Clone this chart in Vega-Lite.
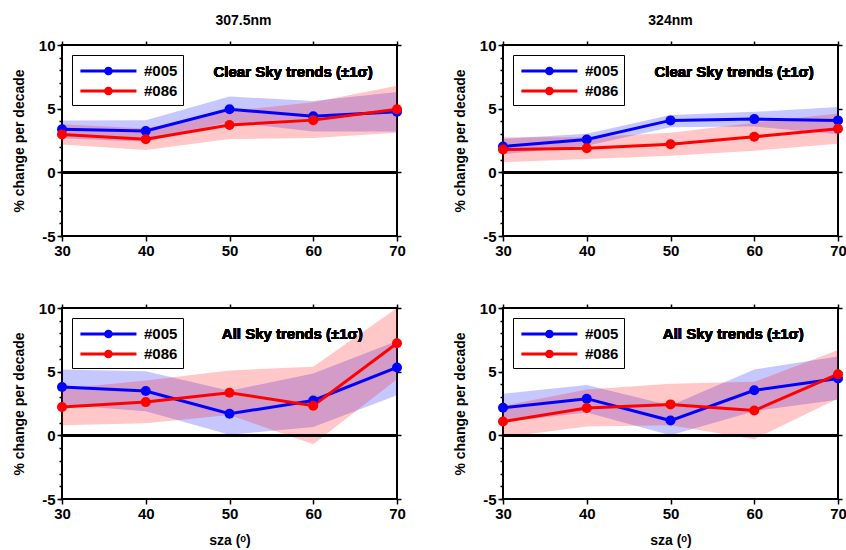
{
  "$schema": "https://vega.github.io/schema/vega-lite/v6.json",
  "background": "white",
  "padding": {"left": 11, "top": 13, "right": 0, "bottom": 0},
  "config": {
    "font": "Liberation Sans",
    "view": {"stroke": "black", "strokeWidth": 2},
    "axis": {
      "labelFont": "Liberation Sans", "labelFontSize": 15, "labelFontWeight": "bold", "labelColor": "black",
      "titleFont": "Liberation Sans", "titleFontSize": 14, "titleFontWeight": "bold", "titleColor": "black",
      "domain": false, "grid": false, "tickColor": "black", "tickWidth": 1.5, "tickSize": 5,
      "labelPadding": 2, "titlePadding": 12, "labelFlush": false, "labelExpr": "'' + datum.value"
    },
    "title": {"font": "Liberation Sans", "fontSize": 14, "fontWeight": "bold", "color": "black", "offset": 10},
    "legend": {
      "orient": "none", "legendX": 10, "legendY": 10, "strokeColor": "black", "fillColor": "white",
      "padding": 5, "title": null,
      "symbolType": "M-0.8,0H5.1M1.85,0A0.3,0.3 0 1,1 2.45,0A0.3,0.3 0 1,1 1.85,0M2.05,0A0.1,0.1 0 1,1 2.25,0A0.1,0.1 0 1,1 2.05,0",
      "symbolSize": 361, "symbolStrokeWidth": 3, "symbolOpacity": 1,
      "labelFont": "Liberation Sans", "labelFontSize": 15, "labelFontWeight": "bold", "labelColor": "black",
      "labelOffset": 45, "rowPadding": -1
    }
  },
  "data": {"values": [
    {"panel": "a", "series": "#005", "sza": 30, "value": 3.38, "lo": 2.68, "hi": 4.08},
    {"panel": "a", "series": "#005", "sza": 40, "value": 3.25, "lo": 2.4, "hi": 4.1},
    {"panel": "a", "series": "#005", "sza": 50, "value": 4.95, "lo": 3.95, "hi": 5.95},
    {"panel": "a", "series": "#005", "sza": 60, "value": 4.4, "lo": 3.2, "hi": 5.6},
    {"panel": "a", "series": "#005", "sza": 70, "value": 4.76, "lo": 3.21, "hi": 6.31},
    {"panel": "a", "series": "#086", "sza": 30, "value": 2.98, "lo": 2.18, "hi": 3.78},
    {"panel": "a", "series": "#086", "sza": 40, "value": 2.6, "lo": 1.75, "hi": 3.45},
    {"panel": "a", "series": "#086", "sza": 50, "value": 3.72, "lo": 2.62, "hi": 4.82},
    {"panel": "a", "series": "#086", "sza": 60, "value": 4.1, "lo": 2.7, "hi": 5.5},
    {"panel": "a", "series": "#086", "sza": 70, "value": 4.95, "lo": 3.1, "hi": 6.8},
    {"panel": "b", "series": "#005", "sza": 30, "value": 2.03, "lo": 1.43, "hi": 2.63},
    {"panel": "b", "series": "#005", "sza": 40, "value": 2.58, "lo": 2.08, "hi": 3.03},
    {"panel": "b", "series": "#005", "sza": 50, "value": 4.08, "lo": 3.55, "hi": 4.5},
    {"panel": "b", "series": "#005", "sza": 60, "value": 4.18, "lo": 3.6, "hi": 4.75},
    {"panel": "b", "series": "#005", "sza": 70, "value": 4.08, "lo": 3.0, "hi": 5.13},
    {"panel": "b", "series": "#086", "sza": 30, "value": 1.79, "lo": 0.8, "hi": 2.75},
    {"panel": "b", "series": "#086", "sza": 40, "value": 1.89, "lo": 1.05, "hi": 2.75},
    {"panel": "b", "series": "#086", "sza": 50, "value": 2.21, "lo": 1.3, "hi": 3.1},
    {"panel": "b", "series": "#086", "sza": 60, "value": 2.79, "lo": 1.7, "hi": 3.9},
    {"panel": "b", "series": "#086", "sza": 70, "value": 3.42, "lo": 2.24, "hi": 4.62},
    {"panel": "c", "series": "#005", "sza": 30, "value": 3.8, "lo": 2.4, "hi": 5.17},
    {"panel": "c", "series": "#005", "sza": 40, "value": 3.48, "lo": 1.9, "hi": 5.04},
    {"panel": "c", "series": "#005", "sza": 50, "value": 1.69, "lo": 0.05, "hi": 3.5},
    {"panel": "c", "series": "#005", "sza": 60, "value": 2.74, "lo": 0.65, "hi": 4.85},
    {"panel": "c", "series": "#005", "sza": 70, "value": 5.33, "lo": 3.15, "hi": 7.4},
    {"panel": "c", "series": "#086", "sza": 30, "value": 2.22, "lo": 0.8, "hi": 3.65},
    {"panel": "c", "series": "#086", "sza": 40, "value": 2.61, "lo": 0.95, "hi": 4.3},
    {"panel": "c", "series": "#086", "sza": 50, "value": 3.35, "lo": 1.6, "hi": 5.1},
    {"panel": "c", "series": "#086", "sza": 60, "value": 2.32, "lo": -0.7, "hi": 5.38},
    {"panel": "c", "series": "#086", "sza": 70, "value": 7.23, "lo": 4.4, "hi": 10.0},
    {"panel": "d", "series": "#005", "sza": 30, "value": 2.16, "lo": 1.05, "hi": 3.27},
    {"panel": "d", "series": "#005", "sza": 40, "value": 2.88, "lo": 1.8, "hi": 3.95},
    {"panel": "d", "series": "#005", "sza": 50, "value": 1.16, "lo": 0.0, "hi": 2.35},
    {"panel": "d", "series": "#005", "sza": 60, "value": 3.54, "lo": 1.9, "hi": 5.17},
    {"panel": "d", "series": "#005", "sza": 70, "value": 4.46, "lo": 2.8, "hi": 6.2},
    {"panel": "d", "series": "#086", "sza": 30, "value": 1.08, "lo": -0.16, "hi": 2.3},
    {"panel": "d", "series": "#086", "sza": 40, "value": 2.14, "lo": 0.7, "hi": 3.6},
    {"panel": "d", "series": "#086", "sza": 50, "value": 2.43, "lo": 0.8, "hi": 4.06},
    {"panel": "d", "series": "#086", "sza": 60, "value": 1.95, "lo": -0.3, "hi": 4.2},
    {"panel": "d", "series": "#086", "sza": 70, "value": 4.8, "lo": 2.9, "hi": 6.7}
  ]},
  "columns": 2,
  "spacing": {"row": 41, "column": 45},
  "resolve": {"legend": {"color": "independent"}, "scale": {"color": "independent"}},
  "concat": [
    {
      "width": 335, "height": 191,
      "title": {"text": "307.5nm", "dx": 14},
      "transform": [{"filter": "datum.panel == 'a'"}],
      "resolve": {"axis": {"x": "independent", "y": "independent"}},
      "layer": [
        {"mark": {"type": "area", "opacity": 0.22},
         "encoding": {
           "x": {"field": "sza", "type": "quantitative", "scale": {"domain": [30, 70], "nice": false}, "axis": {"values": [30, 40, 50, 60, 70], "title": null}},
           "y": {"field": "lo", "type": "quantitative", "scale": {"domain": [-5, 10], "nice": false}, "axis": {"values": [-5, 0, 5, 10], "title": "% change per decade"}},
           "y2": {"field": "hi"},
           "color": {"field": "series", "type": "nominal", "scale": {"domain": ["#005", "#086"], "range": ["#0000ff", "#ff0000"]}}}},
        {"mark": {"type": "rule", "color": "black", "strokeWidth": 2.5},
         "encoding": {"y": {"datum": 0, "type": "quantitative", "axis": {"orient": "left", "values": [-5,-4,-3,-2,-1,0,1,2,3,4,5,6,7,8,9,10], "labels": false, "tickSize": 3, "title": null}}}},
        {"mark": {"type": "line", "strokeWidth": 3, "point": {"filled": true, "size": 100, "opacity": 1}},
         "encoding": {
           "x": {"field": "sza", "type": "quantitative", "axis": {"orient": "top", "values": [30, 40, 50, 60, 70], "labels": false, "tickSize": 4, "title": null}},
           "y": {"field": "value", "type": "quantitative", "axis": {"orient": "right", "values": [-5, 0, 5, 10], "labels": false, "tickSize": 4, "title": null}},
           "color": {"field": "series", "type": "nominal", "scale": {"domain": ["#005", "#086"], "range": ["#0000ff", "#ff0000"]}}}},
        {"mark": {"type": "text", "font": "Liberation Sans", "fontSize": 15, "fontWeight": "bold", "color": "black"},
         "encoding": {"x": {"datum": 57.6, "type": "quantitative", "axis": null}, "y": {"datum": 7.9, "type": "quantitative", "axis": null}, "text": {"value": "Clear Sky trends (±1σ)"}}}
      ]
    },
    {
      "width": 335, "height": 191,
      "title": "324nm",
      "transform": [{"filter": "datum.panel == 'b'"}],
      "resolve": {"axis": {"x": "independent", "y": "independent"}},
      "layer": [
        {"mark": {"type": "area", "opacity": 0.22},
         "encoding": {
           "x": {"field": "sza", "type": "quantitative", "scale": {"domain": [30, 70], "nice": false}, "axis": {"values": [30, 40, 50, 60, 70], "title": null}},
           "y": {"field": "lo", "type": "quantitative", "scale": {"domain": [-5, 10], "nice": false}, "axis": {"values": [-5, 0, 5, 10], "title": "% change per decade"}},
           "y2": {"field": "hi"},
           "color": {"field": "series", "type": "nominal", "scale": {"domain": ["#005", "#086"], "range": ["#0000ff", "#ff0000"]}}}},
        {"mark": {"type": "rule", "color": "black", "strokeWidth": 2.5},
         "encoding": {"y": {"datum": 0, "type": "quantitative", "axis": {"orient": "left", "values": [-5,-4,-3,-2,-1,0,1,2,3,4,5,6,7,8,9,10], "labels": false, "tickSize": 3, "title": null}}}},
        {"mark": {"type": "line", "strokeWidth": 3, "point": {"filled": true, "size": 100, "opacity": 1}},
         "encoding": {
           "x": {"field": "sza", "type": "quantitative", "axis": {"orient": "top", "values": [30, 40, 50, 60, 70], "labels": false, "tickSize": 4, "title": null}},
           "y": {"field": "value", "type": "quantitative", "axis": {"orient": "right", "values": [-5, 0, 5, 10], "labels": false, "tickSize": 4, "title": null}},
           "color": {"field": "series", "type": "nominal", "scale": {"domain": ["#005", "#086"], "range": ["#0000ff", "#ff0000"]}}}},
        {"mark": {"type": "text", "font": "Liberation Sans", "fontSize": 15, "fontWeight": "bold", "color": "black"},
         "encoding": {"x": {"datum": 57.6, "type": "quantitative", "axis": null}, "y": {"datum": 7.9, "type": "quantitative", "axis": null}, "text": {"value": "Clear Sky trends (±1σ)"}}}
      ]
    },
    {
      "width": 335, "height": 191,
      "transform": [{"filter": "datum.panel == 'c'"}],
      "resolve": {"axis": {"x": "independent", "y": "independent"}},
      "layer": [
        {"mark": {"type": "area", "opacity": 0.22},
         "encoding": {
           "x": {"field": "sza", "type": "quantitative", "scale": {"domain": [30, 70], "nice": false}, "axis": {"values": [30, 40, 50, 60, 70], "title": "sza (ᵒ)"}},
           "y": {"field": "lo", "type": "quantitative", "scale": {"domain": [-5, 10], "nice": false}, "axis": {"values": [-5, 0, 5, 10], "title": "% change per decade"}},
           "y2": {"field": "hi"},
           "color": {"field": "series", "type": "nominal", "scale": {"domain": ["#005", "#086"], "range": ["#0000ff", "#ff0000"]}}}},
        {"mark": {"type": "rule", "color": "black", "strokeWidth": 2.5},
         "encoding": {"y": {"datum": 0, "type": "quantitative", "axis": {"orient": "left", "values": [-5,-4,-3,-2,-1,0,1,2,3,4,5,6,7,8,9,10], "labels": false, "tickSize": 3, "title": null}}}},
        {"mark": {"type": "line", "strokeWidth": 3, "point": {"filled": true, "size": 100, "opacity": 1}},
         "encoding": {
           "x": {"field": "sza", "type": "quantitative", "axis": {"orient": "top", "values": [30, 40, 50, 60, 70], "labels": false, "tickSize": 4, "title": null}},
           "y": {"field": "value", "type": "quantitative", "axis": {"orient": "right", "values": [-5, 0, 5, 10], "labels": false, "tickSize": 4, "title": null}},
           "color": {"field": "series", "type": "nominal", "scale": {"domain": ["#005", "#086"], "range": ["#0000ff", "#ff0000"]}}}},
        {"mark": {"type": "text", "font": "Liberation Sans", "fontSize": 15, "fontWeight": "bold", "color": "black"},
         "encoding": {"x": {"datum": 57.5, "type": "quantitative", "axis": null}, "y": {"datum": 7.95, "type": "quantitative", "axis": null}, "text": {"value": "All Sky trends (±1σ)"}}}
      ]
    },
    {
      "width": 335, "height": 191,
      "transform": [{"filter": "datum.panel == 'd'"}],
      "resolve": {"axis": {"x": "independent", "y": "independent"}},
      "layer": [
        {"mark": {"type": "area", "opacity": 0.22},
         "encoding": {
           "x": {"field": "sza", "type": "quantitative", "scale": {"domain": [30, 70], "nice": false}, "axis": {"values": [30, 40, 50, 60, 70], "title": "sza (ᵒ)"}},
           "y": {"field": "lo", "type": "quantitative", "scale": {"domain": [-5, 10], "nice": false}, "axis": {"values": [-5, 0, 5, 10], "title": "% change per decade"}},
           "y2": {"field": "hi"},
           "color": {"field": "series", "type": "nominal", "scale": {"domain": ["#005", "#086"], "range": ["#0000ff", "#ff0000"]}}}},
        {"mark": {"type": "rule", "color": "black", "strokeWidth": 2.5},
         "encoding": {"y": {"datum": 0, "type": "quantitative", "axis": {"orient": "left", "values": [-5,-4,-3,-2,-1,0,1,2,3,4,5,6,7,8,9,10], "labels": false, "tickSize": 3, "title": null}}}},
        {"mark": {"type": "line", "strokeWidth": 3, "point": {"filled": true, "size": 100, "opacity": 1}},
         "encoding": {
           "x": {"field": "sza", "type": "quantitative", "axis": {"orient": "top", "values": [30, 40, 50, 60, 70], "labels": false, "tickSize": 4, "title": null}},
           "y": {"field": "value", "type": "quantitative", "axis": {"orient": "right", "values": [-5, 0, 5, 10], "labels": false, "tickSize": 4, "title": null}},
           "color": {"field": "series", "type": "nominal", "scale": {"domain": ["#005", "#086"], "range": ["#0000ff", "#ff0000"]}}}},
        {"mark": {"type": "text", "font": "Liberation Sans", "fontSize": 15, "fontWeight": "bold", "color": "black"},
         "encoding": {"x": {"datum": 57.5, "type": "quantitative", "axis": null}, "y": {"datum": 7.95, "type": "quantitative", "axis": null}, "text": {"value": "All Sky trends (±1σ)"}}}
      ]
    }
  ]
}
